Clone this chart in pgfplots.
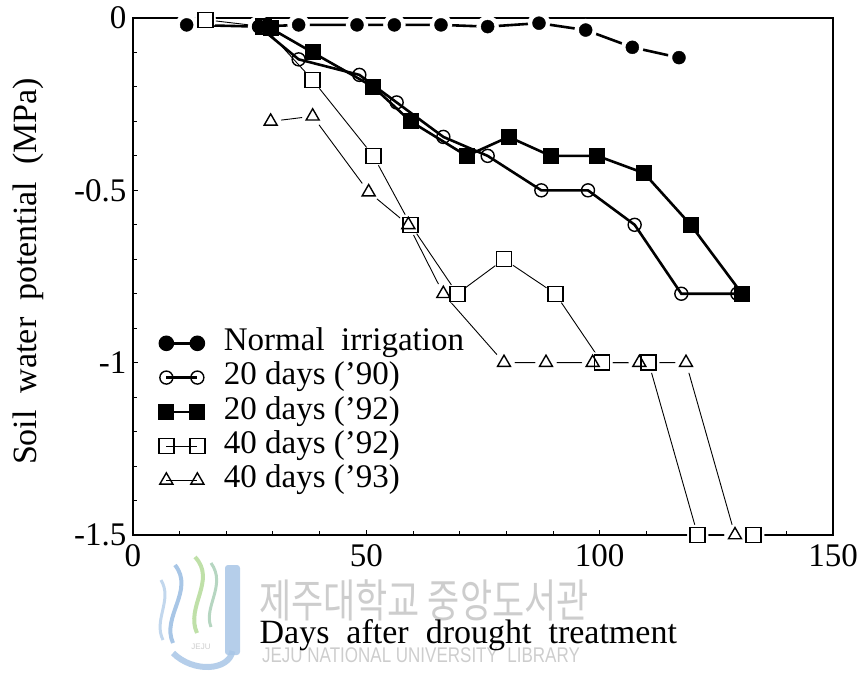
\documentclass[border=0pt]{standalone}
\usepackage{fontspec}
\setmainfont{Liberation Serif}
\newfontfamily\krfont{Noto Sans CJK KR}
\newfontfamily\wmfont{Liberation Sans}
\usepackage{pgfplots}
\pgfplotsset{compat=1.18}

\definecolor{wmgray}{HTML}{CDCDCD}
\definecolor{wmblue}{HTML}{A8C6E6}
\definecolor{wmgreen}{HTML}{BFE0A8}

% soil water potential (MPa) vs days after drought treatment
\pgfplotstableread{
x y
11.5 -0.02
27 -0.025
35.5 -0.02
48 -0.02
56 -0.02
66 -0.02
76 -0.025
87 -0.015
97 -0.035
107 -0.085
117 -0.115
}\normal

\pgfplotstableread{
x y
27 -0.025
35.5 -0.12
48.5 -0.165
56.5 -0.245
66.5 -0.345
76 -0.40
87.5 -0.50
97.5 -0.50
107.5 -0.60
117.5 -0.80
129.5 -0.80
}\twentyA

\pgfplotstableread{
x y
29.5 -0.03
38.5 -0.10
51.5 -0.20
59.5 -0.30
71.5 -0.40
80.5 -0.345
89.5 -0.40
99.5 -0.40
109.5 -0.45
119.5 -0.60
130.5 -0.80
}\twentyB

\pgfplotstableread{
x y
15.5 -0.005
28 -0.025
38.5 -0.18
51.5 -0.40
59.5 -0.60
69.5 -0.80
79.5 -0.70
90.5 -0.80
100.5 -1.00
110.5 -1.00
121 -1.50
133 -1.50
}\fortyA

\pgfplotstableread{
x y
29.5 -0.30
38.5 -0.285
50.5 -0.505
59 -0.60
66.5 -0.80
79.5 -1.00
88.5 -1.00
98.5 -1.00
108.5 -1.00
118.5 -1.00
129 -1.50
}\fortyB

\begin{document}
\begin{tikzpicture}
% library watermark (behind the chart)
\begin{scope}
\fill[wmblue, opacity=0.85, rounded corners=3pt] (92pt,-30pt) rectangle (107pt,-120pt);
\draw[wmblue, line width=6pt, opacity=0.85] (99.5pt,-116pt) .. controls (96pt,-136pt) and (60pt,-138pt) .. (40pt,-118pt);
\draw[wmgreen, line width=4pt] (62pt,-22pt) .. controls (84pt,-45pt) and (52pt,-72pt) .. (64pt,-98pt);
\draw[wmblue, line width=4pt] (42pt,-30pt) .. controls (62pt,-55pt) and (28pt,-82pt) .. (40pt,-108pt);
\draw[wmgreen!60!wmblue, line width=3pt] (78pt,-28pt) .. controls (94pt,-50pt) and (70pt,-72pt) .. (78pt,-92pt);
\draw[wmblue!70, line width=3pt] (28pt,-45pt) .. controls (40pt,-65pt) and (20pt,-85pt) .. (30pt,-105pt);
\node[wmgray, font=\wmfont\fontsize{8}{9}\selectfont] at (68pt,-112pt) {JEJU};
\node[wmgray, font=\krfont\fontsize{35}{40}\selectfont, yscale=1.3] at (291pt,-65pt) {제주대학교 중앙도서관};
\node[wmgray, font=\wmfont\fontsize{17}{20}\selectfont, yscale=1.25] at (288pt,-120pt) {JEJU NATIONAL UNIVERSITY\ \ LIBRARY};
\end{scope}

\begin{axis}[
    at={(0,0)}, anchor=south west,
    scale only axis,
    width=700pt, height=517pt,
    xmin=0, xmax=150, ymin=-1.5, ymax=0,
    xtick={0,50,100,150}, xticklabels={0,50,100,150},
    ytick={-1.5,-1,-0.5,0}, yticklabels={-1.5,-1,-0.5,0},
    minor x tick num=4, minor y tick num=4,
    tick pos=left, tick align=inside,
    major tick length=5pt, minor tick length=4pt,
    every tick/.style={black, line width=1pt},
    axis line style={line width=1.3pt},
    axis on top,
    clip=false,
    ticklabel style={font=\fontsize{33}{38}\selectfont},
    xticklabel style={yshift=-6pt},
    yticklabel style={xshift=-3pt},
    xlabel={Days\ \ after\ \ drought\ \ treatment},
    ylabel={Soil\ \ water\ \ potential\ \ (MPa)},
    label style={font=\fontsize{34}{40}\selectfont},
    xlabel style={at={(axis description cs:0.479,-0.193)}, anchor=center},
    ylabel style={at={(axis description cs:-0.15,0.51)}, anchor=center},
    legend style={at={(axis cs:5.5,-0.8936)}, anchor=north west, draw=none, fill=none,
        font=\fontsize{33}{38}\selectfont, row sep=0pt, column sep=18pt, inner sep=0pt,
        nodes={inner sep=1pt, text height=23.5pt, text depth=8.75pt}},
    legend cell align=left,
    legend image code/.code={
        \draw[mark repeat=1] plot coordinates {(0pt,0pt) (31pt,0pt)};
    },
]
% legend entries in the reference's order
\addlegendimage{black, line width=2.6pt, mark=*, mark size=6.5pt}
\addlegendentry{Normal\ \ irrigation}
\addlegendimage{black, line width=2.6pt, mark=o, mark size=6.5pt, mark options={fill=white, line width=1.4pt}}
\addlegendentry{20 days ('90)}
\addlegendimage{black, line width=2.6pt, mark=square*, mark size=7.5pt, mark options={fill=black, line width=1pt}}
\addlegendentry{20 days ('92)}
\addlegendimage{black, line width=0.9pt, mark=square, mark size=7.5pt, mark options={fill=white, line width=1.4pt}}
\addlegendentry{40 days ('92)}
\addlegendimage{black, line width=0.9pt, mark=triangle, mark size=7.5pt, mark options={fill=white, line width=1.4pt}}
\addlegendentry{40 days ('93)}

% normal irrigation: line broken around its markers
\addplot[black, line width=2.6pt, forget plot] table {\normal};
\addplot[only marks, white, mark=*, mark size=11pt, forget plot] table {\normal};
\addplot[only marks, black, mark=*, mark size=6.5pt, forget plot] table {\normal};

% 40 days series: thin lines, broken around markers
\addplot[black, line width=0.9pt, forget plot] table {\fortyA};
\addplot[black, line width=0.9pt, forget plot] table {\fortyB};
\addplot[only marks, white, mark=*, mark size=10.5pt, forget plot,
    skip coords between index={1}{2}] table {\fortyA};
\addplot[only marks, white, mark=*, mark size=10.5pt, forget plot] table {\fortyB};
\addplot[only marks, black, mark=square, mark size=7.5pt, forget plot,
    mark options={fill=white, line width=1.4pt}] table {\fortyA};
\addplot[only marks, black, mark=triangle, mark size=7.5pt, forget plot,
    mark options={fill=white, line width=1.4pt}] table {\fortyB};

% 20 days series: thick lines
\addplot[black, line width=2.6pt, mark=o, mark size=6.5pt, forget plot,
    mark options={fill=white, line width=1.4pt}] table {\twentyA};
\addplot[black, line width=2.6pt, mark=square*, mark size=7.5pt, forget plot,
    mark options={fill=black, line width=1pt}] table {\twentyB};
\end{axis}
\pgfresetboundingbox
\path[use as bounding box] (-133pt,-138pt) rectangle (732pt,535pt);
\end{tikzpicture}
\end{document}
